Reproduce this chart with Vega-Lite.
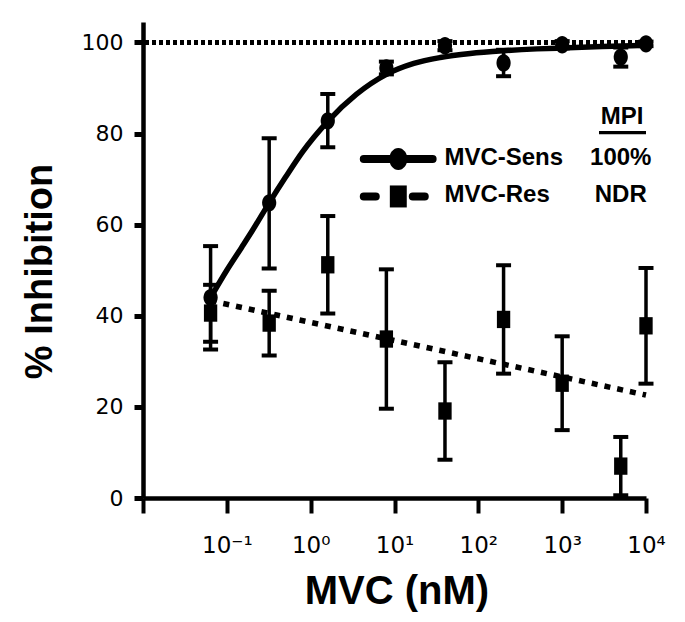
{
  "$schema": "https://vega.github.io/schema/vega-lite/v6.json",
  "width": 503,
  "height": 476,
  "autosize": {"type": "none"},
  "padding": {"left": 143, "top": 22, "right": 39, "bottom": 124},
  "background": "white",
  "config": {
    "view": {"stroke": null},
    "axis": {"grid": false, "domainColor": "black", "tickColor": "black", "labelColor": "black", "titleColor": "black", "labelFont": "DejaVu Sans", "labelFontSize": 22, "titleFont": "Liberation Sans", "titleFontWeight": "bold"},
    "axisX": {"domainWidth": 4.5, "tickWidth": 4, "tickSize": 15, "labelPadding": 21, "labelFontSize": 23, "titleFontSize": 40, "titleX": 253.5, "titleY": 105, "titleBaseline": "alphabetic", "titleAlign": "center", "labelFlush": false, "labelOverlap": false},
    "axisY": {"domainWidth": 4.5, "tickWidth": 5, "tickSize": 9, "labelPadding": 11, "titleFontSize": 38, "titleX": -103, "titleY": 249, "titleAngle": 270, "titleBaseline": "middle", "titleAlign": "center"}
  },
  "datasets": {
    "points": [
      {"conc": 0.064, "series": "MVC-Sens", "pct": 44.0, "lo": 32.6, "hi": 55.3},
      {"conc": 0.32, "series": "MVC-Sens", "pct": 64.8, "lo": 50.4, "hi": 79.0},
      {"conc": 1.6, "series": "MVC-Sens", "pct": 82.8, "lo": 77.0, "hi": 88.7},
      {"conc": 8, "series": "MVC-Sens", "pct": 94.4, "lo": 93.0, "hi": 95.8},
      {"conc": 40, "series": "MVC-Sens", "pct": 99.3, "lo": 98.3, "hi": 100.3},
      {"conc": 200, "series": "MVC-Sens", "pct": 95.5, "lo": 92.6, "hi": 98.4},
      {"conc": 1000, "series": "MVC-Sens", "pct": 99.5, "lo": 98.7, "hi": 100.3},
      {"conc": 5000, "series": "MVC-Sens", "pct": 96.8, "lo": 94.7, "hi": 98.9},
      {"conc": 10000, "series": "MVC-Sens", "pct": 99.7, "lo": 99.2, "hi": 100.2},
      {"conc": 0.064, "series": "MVC-Res", "pct": 40.6, "lo": 34.3, "hi": 46.8},
      {"conc": 0.32, "series": "MVC-Res", "pct": 38.4, "lo": 31.3, "hi": 45.5},
      {"conc": 1.6, "series": "MVC-Res", "pct": 51.2, "lo": 40.5, "hi": 61.9},
      {"conc": 8, "series": "MVC-Res", "pct": 34.9, "lo": 19.6, "hi": 50.2},
      {"conc": 40, "series": "MVC-Res", "pct": 19.1, "lo": 8.4, "hi": 29.8},
      {"conc": 200, "series": "MVC-Res", "pct": 39.2, "lo": 27.3, "hi": 51.1},
      {"conc": 1000, "series": "MVC-Res", "pct": 25.2, "lo": 14.9, "hi": 35.5},
      {"conc": 5000, "series": "MVC-Res", "pct": 7.0, "lo": 0.6, "hi": 13.4},
      {"conc": 10000, "series": "MVC-Res", "pct": 37.8, "lo": 25.1, "hi": 50.5}
    ],
    "curve": [
      {"conc": 0.064, "pct": 44.0},
      {"conc": 0.1, "pct": 50.0},
      {"conc": 0.15, "pct": 55.0},
      {"conc": 0.2, "pct": 58.6},
      {"conc": 0.32, "pct": 64.8},
      {"conc": 0.5, "pct": 70.4},
      {"conc": 0.8, "pct": 76.0},
      {"conc": 1.6, "pct": 82.7},
      {"conc": 3.5, "pct": 88.6},
      {"conc": 8, "pct": 93.0},
      {"conc": 17, "pct": 95.4},
      {"conc": 35, "pct": 96.7},
      {"conc": 80, "pct": 97.6},
      {"conc": 200, "pct": 98.2},
      {"conc": 500, "pct": 98.6},
      {"conc": 1000, "pct": 98.8},
      {"conc": 3000, "pct": 99.1},
      {"conc": 10000, "pct": 99.4}
    ],
    "resfit": [
      {"conc": 0.064, "pct": 43.3},
      {"conc": 10000, "pct": 22.6}
    ],
    "legend": [
      {"series": "MVC-Sens", "mpi": "100%", "ly": 74.4, "ty": 73.2},
      {"series": "MVC-Res", "mpi": "NDR", "ly": 66.2, "ty": 64.9}
    ],
    "header": [
      {"label": "MPI", "ty": 82.0, "uy": 80.2}
    ]
  },
  "layer": [
    {
      "data": {"name": "points"},
      "mark": {"type": "rule", "strokeDash": [4, 3], "strokeWidth": 3.6, "color": "black"},
      "encoding": {
        "y": {"datum": 100, "type": "quantitative", "title": "% Inhibition"}
      }
    },
    {
      "data": {"name": "resfit"},
      "mark": {"type": "line", "strokeDash": [6, 7], "strokeWidth": 5.5, "color": "black", "strokeCap": "butt"},
      "encoding": {
        "x": {"field": "conc", "type": "quantitative", "title": "MVC (nM)"},
        "y": {"field": "pct", "type": "quantitative", "title": "% Inhibition"}
      }
    },
    {
      "data": {"name": "curve"},
      "mark": {"type": "line", "strokeWidth": 5.5, "color": "black", "interpolate": "monotone"},
      "encoding": {
        "x": {"field": "conc", "type": "quantitative", "title": "MVC (nM)"},
        "y": {"field": "pct", "type": "quantitative", "title": "% Inhibition"}
      }
    },
    {
      "data": {"name": "points"},
      "mark": {"type": "rule", "strokeWidth": 3.5, "color": "black", "opacity": 1},
      "encoding": {
        "x": {"field": "conc", "type": "quantitative", "title": "MVC (nM)"},
        "y": {"field": "lo", "type": "quantitative", "title": "% Inhibition"},
        "y2": {"field": "hi"}
      }
    },
    {
      "data": {"name": "points"},
      "mark": {"type": "tick", "orient": "horizontal", "size": 15, "thickness": 4, "color": "black", "opacity": 1},
      "encoding": {
        "x": {"field": "conc", "type": "quantitative", "title": "MVC (nM)"},
        "y": {"field": "lo", "type": "quantitative", "title": "% Inhibition"}
      }
    },
    {
      "data": {"name": "points"},
      "mark": {"type": "tick", "orient": "horizontal", "size": 15, "thickness": 4, "color": "black", "opacity": 1},
      "encoding": {
        "x": {"field": "conc", "type": "quantitative", "title": "MVC (nM)"},
        "y": {"field": "hi", "type": "quantitative", "title": "% Inhibition"}
      }
    },
    {
      "data": {"name": "points"},
      "mark": {"type": "point", "filled": true, "color": "black", "opacity": 1, "size": 300},
      "encoding": {
        "x": {
          "field": "conc", "type": "quantitative", "title": "MVC (nM)",
          "scale": {"type": "log", "domain": [0.01, 10000], "nice": false},
          "axis": {
            "values": [0.01, 0.1, 1, 10, 100, 1000, 10000],
            "labelExpr": "datum.value < 0.05 ? '' : datum.value < 0.5 ? '10⁻¹' : datum.value < 5 ? '10⁰' : datum.value < 50 ? '10¹' : datum.value < 500 ? '10²' : datum.value < 5000 ? '10³' : '10⁴'"
          }
        },
        "y": {
          "field": "pct", "type": "quantitative", "title": "% Inhibition",
          "scale": {"domain": [0, 104.5], "nice": false, "zero": true},
          "axis": {"values": [0, 20, 40, 60, 80, 100]}
        },
        "shape": {
          "field": "series", "type": "nominal", "legend": null,
          "scale": {"domain": ["MVC-Sens", "MVC-Res"], "range": ["M-0.82,0A0.82,1 0 1,0 0.82,0A0.82,1 0 1,0 -0.82,0Z", "M-0.77,-1H0.77V1H-0.77Z"]}
        }
      }
    },
    {
      "data": {"name": "legend"},
      "mark": {"type": "rule", "strokeWidth": 8, "color": "black", "strokeCap": "round"},
      "encoding": {
        "x": {"datum": 4.3, "type": "quantitative", "title": "MVC (nM)"},
        "x2": {"datum": 28.5},
        "y": {"field": "ly", "type": "quantitative", "title": "% Inhibition"},
        "strokeDash": {
          "field": "series", "type": "nominal", "legend": null,
          "scale": {"domain": ["MVC-Sens", "MVC-Res"], "range": [[1, 0], [12, 37]]}
        }
      }
    },
    {
      "data": {"name": "legend"},
      "mark": {"type": "point", "filled": true, "color": "black", "opacity": 1, "size": 484},
      "encoding": {
        "x": {"datum": 11.1, "type": "quantitative", "title": "MVC (nM)"},
        "y": {"field": "ly", "type": "quantitative", "title": "% Inhibition"},
        "shape": {"field": "series", "type": "nominal", "legend": null}
      }
    },
    {
      "data": {"name": "legend"},
      "mark": {"type": "text", "align": "left", "baseline": "alphabetic", "font": "Liberation Sans", "fontWeight": "bold", "fontSize": 24, "color": "black"},
      "encoding": {
        "x": {"datum": 39.4, "type": "quantitative", "title": "MVC (nM)"},
        "y": {"field": "ty", "type": "quantitative", "title": "% Inhibition"},
        "text": {"field": "series"}
      }
    },
    {
      "data": {"name": "legend"},
      "mark": {"type": "text", "align": "center", "baseline": "alphabetic", "font": "Liberation Sans", "fontWeight": "bold", "fontSize": 24, "color": "black"},
      "encoding": {
        "x": {"datum": 5000, "type": "quantitative", "title": "MVC (nM)"},
        "y": {"field": "ty", "type": "quantitative", "title": "% Inhibition"},
        "text": {"field": "mpi"}
      }
    },
    {
      "data": {"name": "header"},
      "mark": {"type": "text", "align": "center", "baseline": "alphabetic", "font": "Liberation Sans", "fontWeight": "bold", "fontSize": 24, "color": "black"},
      "encoding": {
        "x": {"datum": 5200, "type": "quantitative", "title": "MVC (nM)"},
        "y": {"field": "ty", "type": "quantitative", "title": "% Inhibition"},
        "text": {"field": "label"}
      }
    },
    {
      "data": {"name": "header"},
      "mark": {"type": "rule", "strokeWidth": 3.3, "color": "black"},
      "encoding": {
        "x": {"datum": 2750, "type": "quantitative", "title": "MVC (nM)"},
        "x2": {"datum": 10000},
        "y": {"field": "uy", "type": "quantitative", "title": "% Inhibition"}
      }
    }
  ]
}
